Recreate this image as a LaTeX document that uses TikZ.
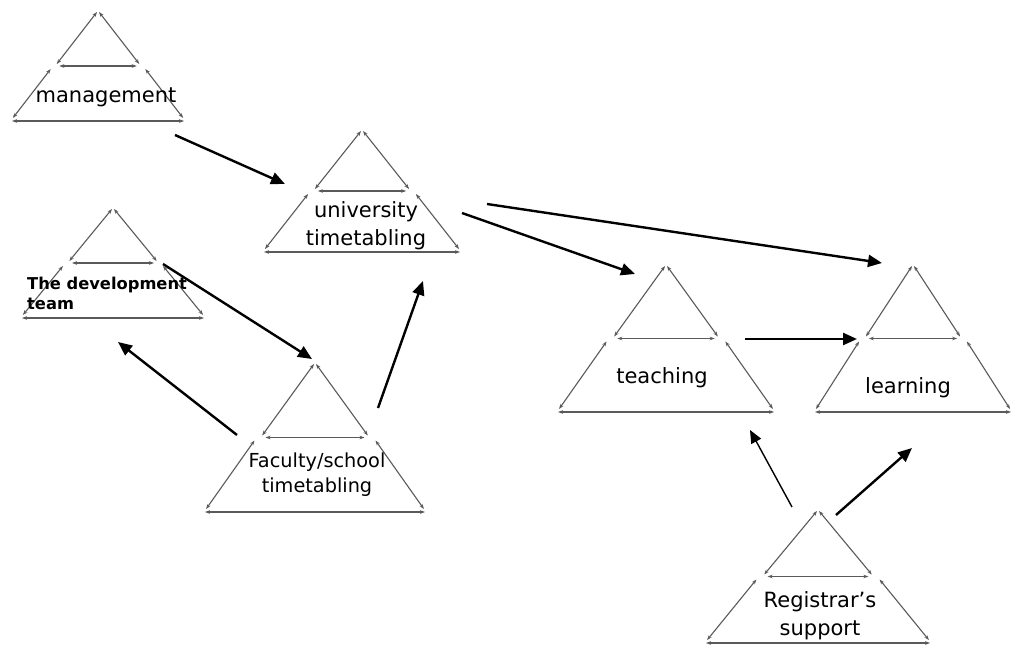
\documentclass[tikz,border=0pt]{standalone}
\usepackage{fontspec}
\setmainfont{DejaVu Sans}
\usetikzlibrary{arrows.meta}
\definecolor{edgegray}{HTML}{5A5A5A}
% pyramid: apex x, apex y, half base width, height
\newcommand{\pyr}[4]{%
  \begin{scope}[shift={(#1,#2)}]
    \draw[tri] (-1,1) -- ({-0.48*#3},{0.5*#4-2});
    \draw[tri] (1,1) -- ({0.48*#3},{0.5*#4-2});
    \draw[tri] ({-0.45*#3},{0.5*#4}) -- ({0.45*#3},{0.5*#4});
    \draw[tri] ({-0.55*#3},{0.5*#4+3}) -- ({-0.99*#3},{#4-3});
    \draw[tri] ({0.55*#3},{0.5*#4+3}) -- ({0.99*#3},{#4-3});
    \draw[tri] ({-#3},{#4}) -- ({#3},{#4});
  \end{scope}}
\tikzset{
  tri/.style={draw=edgegray, line width=1.1pt,
    {Stealth[length=5pt,width=3.6pt]}-{Stealth[length=5pt,width=3.6pt]}},
  flow/.style={line width=2.4pt, -{Triangle[length=14pt,width=12pt]}},
  thinflow/.style={line width=1.4pt, -{Triangle[length=13pt,width=11pt]}},
  lbl/.style={font=\fontsize{21}{28}\selectfont, align=center, inner sep=0pt},
}
\begin{document}
\begin{tikzpicture}[x=1pt,y=-1pt]
  \useasboundingbox[fill=white] (0,0) rectangle (1013,647);

  % the seven pyramids
  \pyr{98}{11}{86}{110}
  \pyr{362}{130}{98}{122}
  \pyr{113}{208}{91}{110}
  \pyr{666}{265}{108}{147}
  \pyr{913}{265}{98}{147}
  \pyr{315}{363}{110}{149}
  \pyr{818}{510}{112}{133}

  % labels
  \node[lbl] (mgmt) at (106,97) {management};
  \node[lbl] (univ) at (366,226) {university\\timetabling};
  \node[lbl, font=\bfseries\fontsize{16.3}{20}\selectfont, align=left, anchor=west] (dev) at (27,293) {The development\\team};
  \node[lbl] (teach) at (662,378) {teaching};
  \node[lbl] (learn) at (908,388) {learning};
  \node[lbl, font=\fontsize{19.3}{25}\selectfont] (fac) at (317,475) {Faculty/school\\timetabling};
  \node[lbl] (reg) at (820,616) {Registrar’s\\support};

  % connector end points
  \coordinate (m1) at (175,135);  \coordinate (u1) at (285,184);
  \coordinate (u2) at (462,213);  \coordinate (t1) at (635,274);
  \coordinate (u3) at (487,204);  \coordinate (l1) at (882,263);
  \coordinate (d1) at (163,264);  \coordinate (f1) at (312,359);
  \coordinate (f2) at (237,435);  \coordinate (d2) at (118,342);
  \coordinate (f3) at (378,408);  \coordinate (u4) at (423,281);
  \coordinate (t2) at (745,339);  \coordinate (l2) at (857,339);
  \coordinate (r1) at (792,507);  \coordinate (t3) at (750,430);
  \coordinate (r2) at (836,515);  \coordinate (l3) at (912,448);

  \draw[flow] (m1) -- (u1);
  \draw[flow] (u2) -- (t1);
  \draw[flow] (u3) -- (l1);
  \draw[flow] (d1) -- (f1);
  \draw[flow] (f2) -- (d2);
  \draw[flow] (f3) -- (u4);
  \draw[flow] (t2) -- (l2);
  \draw[thinflow] (r1) -- (t3);
  \draw[flow] (r2) -- (l3);
\end{tikzpicture}
\end{document}
